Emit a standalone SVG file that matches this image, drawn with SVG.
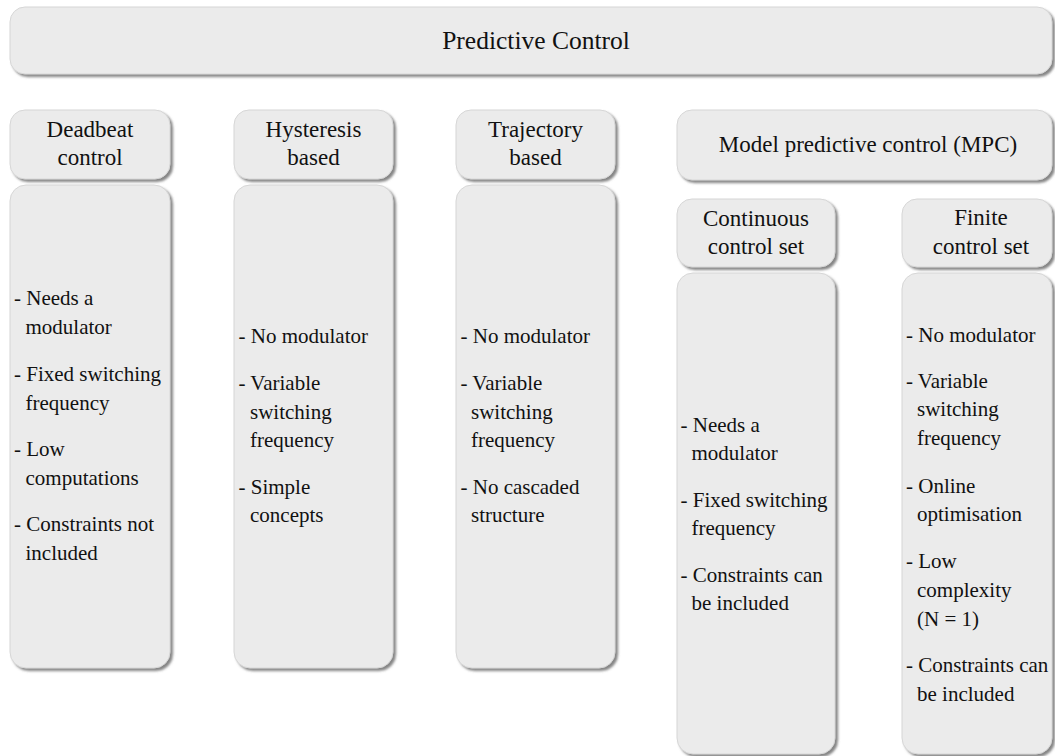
<svg xmlns="http://www.w3.org/2000/svg" width="1055" height="756" viewBox="0 0 1055 756">
  <defs>
    <filter id="shade" x="-5%" y="-5%" width="115%" height="115%">
      <feDropShadow dx="2.5" dy="2.5" stdDeviation="0.8" flood-color="#6f6f6f" flood-opacity="0.85"/>
    </filter>
  </defs>
  <style>
    .box { fill: #ebebeb; stroke: #d6d6d6; stroke-width: 1; filter: url(#shade); }
    .title { font-size: 25.5px; text-anchor: middle; }
    .head { font-size: 23px; text-anchor: middle; }
    .item { font-size: 21px; }
  </style>
  <rect width="1055" height="756" fill="#ffffff"/>

  <g font-family="Liberation Serif, Times New Roman, serif" fill="#111111">
  <!-- top level -->
  <g id="predictive-control">
    <rect class="box" x="10" y="7" width="1042" height="67" rx="15"/>
    <text class="title" x="536" y="49">Predictive Control</text>
  </g>

  <!-- Deadbeat column -->
  <g id="deadbeat">
    <rect class="box" x="10" y="110" width="160" height="69" rx="15"/>
    <text class="head" x="90" y="137">Deadbeat</text>
    <text class="head" x="90" y="165">control</text>
  </g>
  <g id="deadbeat-features">
    <rect class="box" x="10" y="185" width="160" height="483" rx="16"/>
    <text class="item" x="14" y="305">- Needs a</text>
    <text class="item" x="25.5" y="334">modulator</text>
    <text class="item" x="14" y="380.5">- Fixed switching</text>
    <text class="item" x="25.5" y="409.5">frequency</text>
    <text class="item" x="14" y="455.5">- Low</text>
    <text class="item" x="25.5" y="484.5">computations</text>
    <text class="item" x="14" y="530.5">- Constraints not</text>
    <text class="item" x="25.5" y="559.5">included</text>
  </g>

  <!-- Hysteresis column -->
  <g id="hysteresis">
    <rect class="box" x="234" y="110" width="159" height="69" rx="15"/>
    <text class="head" x="313.5" y="137">Hysteresis</text>
    <text class="head" x="313.5" y="165">based</text>
  </g>
  <g id="hysteresis-features">
    <rect class="box" x="234" y="185" width="159" height="483" rx="16"/>
    <text class="item" x="238.5" y="343">- No modulator</text>
    <text class="item" x="238.5" y="389.5">- Variable</text>
    <text class="item" x="250" y="418.5">switching</text>
    <text class="item" x="250" y="447">frequency</text>
    <text class="item" x="238.5" y="494">- Simple</text>
    <text class="item" x="250" y="522">concepts</text>
  </g>

  <!-- Trajectory column -->
  <g id="trajectory">
    <rect class="box" x="456" y="110" width="159" height="69" rx="15"/>
    <text class="head" x="535.5" y="137">Trajectory</text>
    <text class="head" x="535.5" y="165">based</text>
  </g>
  <g id="trajectory-features">
    <rect class="box" x="456" y="185" width="159" height="483" rx="16"/>
    <text class="item" x="460.5" y="343">- No modulator</text>
    <text class="item" x="460.5" y="389.5">- Variable</text>
    <text class="item" x="471" y="418.5">switching</text>
    <text class="item" x="471" y="447">frequency</text>
    <text class="item" x="460.5" y="494">- No cascaded</text>
    <text class="item" x="471" y="522">structure</text>
  </g>

  <!-- MPC branch -->
  <g id="mpc">
    <rect class="box" x="677" y="110" width="375" height="70" rx="15"/>
    <text class="head" x="868" y="152">Model predictive control (MPC)</text>
  </g>
  <g id="continuous-control-set">
    <rect class="box" x="677" y="199" width="158" height="68" rx="15"/>
    <text class="head" x="756" y="226">Continuous</text>
    <text class="head" x="756" y="254">control set</text>
  </g>
  <g id="continuous-features">
    <rect class="box" x="677" y="273" width="158" height="481" rx="16"/>
    <text class="item" x="680.5" y="431.5">- Needs a</text>
    <text class="item" x="691.5" y="460">modulator</text>
    <text class="item" x="680.5" y="506.5">- Fixed switching</text>
    <text class="item" x="691.5" y="535">frequency</text>
    <text class="item" x="680.5" y="581.5">- Constraints can</text>
    <text class="item" x="691.5" y="610">be included</text>
  </g>
  <g id="finite-control-set">
    <rect class="box" x="902" y="199" width="150" height="68" rx="15"/>
    <text class="head" x="981" y="225">Finite</text>
    <text class="head" x="981" y="254">control set</text>
  </g>
  <g id="finite-features">
    <rect class="box" x="902" y="273" width="150" height="481" rx="16"/>
    <text class="item" x="906" y="341.5">- No modulator</text>
    <text class="item" x="906" y="388">- Variable</text>
    <text class="item" x="917" y="416">switching</text>
    <text class="item" x="917" y="445">frequency</text>
    <text class="item" x="906" y="492.5">- Online</text>
    <text class="item" x="917" y="520.5">optimisation</text>
    <text class="item" x="906" y="568">- Low</text>
    <text class="item" x="917" y="597">complexity</text>
    <text class="item" x="917" y="626">(N = 1)</text>
    <text class="item" x="906" y="672">- Constraints can</text>
    <text class="item" x="917" y="700.5">be included</text>
  </g>
  </g>

  <!-- hierarchy is shown by layout alone; no drawn connectors -->
  <g id="connectors"/>
</svg>
